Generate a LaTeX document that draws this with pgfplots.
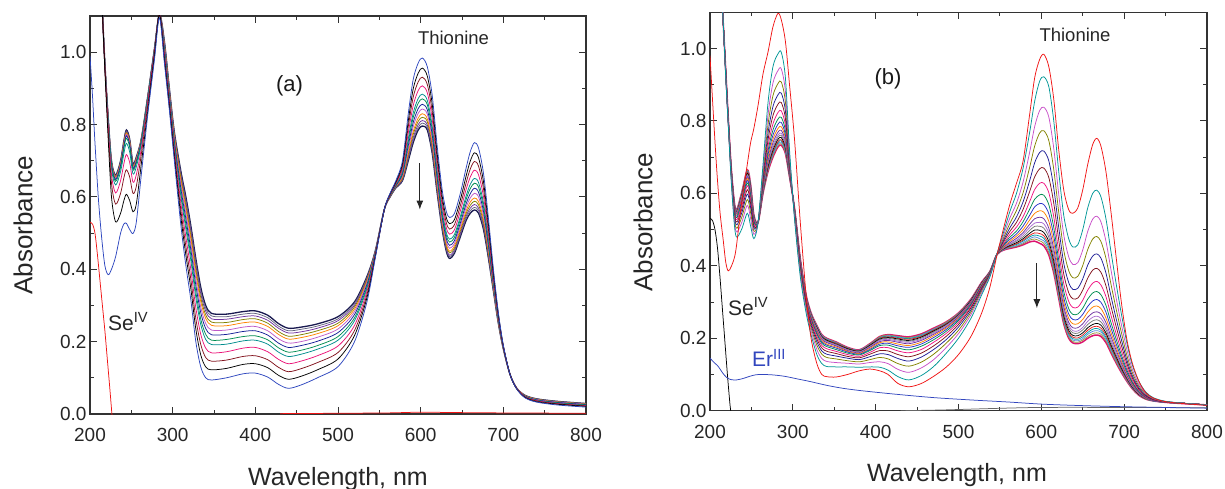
\documentclass[border=0pt]{standalone}
\usepackage{fontspec}
\setmainfont{Liberation Sans}
\usepackage{pgfplots}
\usepackage{pgfplotstable}
\pgfplotsset{compat=1.18}
\usetikzlibrary{arrows.meta}

\definecolor{cA0}{RGB}{45,70,190}
\definecolor{cA1}{RGB}{0,0,0}
\definecolor{cA2}{RGB}{130,20,30}
\definecolor{cA3}{RGB}{235,20,120}
\definecolor{cA4}{RGB}{0,140,140}
\definecolor{cA5}{RGB}{0,140,80}
\definecolor{cA6}{RGB}{20,30,150}
\definecolor{cA7}{RGB}{190,90,200}
\definecolor{cA8}{RGB}{255,130,0}
\definecolor{cA9}{RGB}{130,130,0}
\definecolor{cA10}{RGB}{110,50,160}
\definecolor{cA11}{RGB}{100,100,130}
\definecolor{cA12}{RGB}{25,25,80}
\definecolor{cB0}{RGB}{240,20,20}
\definecolor{cB1}{RGB}{0,150,150}
\definecolor{cB2}{RGB}{200,80,200}
\definecolor{cB3}{RGB}{130,130,0}
\definecolor{cB4}{RGB}{30,30,150}
\definecolor{cB5}{RGB}{130,20,30}
\definecolor{cB6}{RGB}{240,20,130}
\definecolor{cB7}{RGB}{0,140,80}
\definecolor{cB8}{RGB}{40,50,200}
\definecolor{cB9}{RGB}{255,130,0}
\definecolor{cB10}{RGB}{110,50,160}
\definecolor{cB11}{RGB}{170,110,210}
\definecolor{cB12}{RGB}{120,120,120}
\definecolor{cB13}{RGB}{0,0,0}
\definecolor{cB14}{RGB}{230,30,30}
\definecolor{cB15}{RGB}{0,160,170}
\definecolor{cB16}{RGB}{90,140,220}
\definecolor{cB17}{RGB}{150,150,60}
\definecolor{cB18}{RGB}{220,20,110}
\definecolor{seRed}{RGB}{240,20,20}
\definecolor{erBlue}{RGB}{50,70,190}

\pgfplotstableread{
x k0 k1 k2 k3 k4 k5 k6 k7 k8 k9 k10 k11 k12
200 0.99 nan nan nan nan nan nan nan nan nan nan nan nan
203 0.88 nan nan nan nan nan nan nan nan nan nan nan nan
206 0.75 nan nan nan nan nan nan nan nan nan nan nan nan
210 0.60 1.35 1.35 1.35 1.35 1.35 1.35 1.35 1.35 1.35 1.35 1.35 1.35
214 0.49 1.16 1.16 1.16 1.16 1.16 1.16 1.16 1.16 1.16 1.16 1.16 1.16
218 0.41 0.95 0.958 0.962 0.966 0.967 0.968 0.969 0.969 0.969 0.969 0.97 0.97
222 0.385 0.76 0.783 0.797 0.807 0.812 0.815 0.816 0.817 0.818 0.818 0.819 0.82
226 0.40 0.60 0.638 0.662 0.679 0.687 0.691 0.693 0.695 0.696 0.697 0.699 0.70
231 0.435 0.531 0.580 0.611 0.633 0.643 0.648 0.651 0.654 0.655 0.656 0.658 0.660
237 0.50 0.555 0.610 0.645 0.670 0.681 0.687 0.690 0.693 0.694 0.696 0.698 0.70
241 0.525 0.59 0.653 0.692 0.720 0.734 0.740 0.743 0.747 0.748 0.750 0.753 0.755
244 0.527 0.607 0.675 0.717 0.748 0.762 0.769 0.773 0.776 0.778 0.780 0.782 0.785
248 0.51 0.59 0.655 0.695 0.724 0.738 0.745 0.748 0.752 0.753 0.755 0.757 0.76
252 0.499 0.559 0.610 0.641 0.664 0.675 0.680 0.683 0.685 0.687 0.688 0.690 0.692
256 0.53 0.58 0.629 0.661 0.683 0.693 0.698 0.701 0.704 0.705 0.706 0.708 0.71
262 0.66 0.69 0.717 0.733 0.745 0.751 0.754 0.755 0.757 0.757 0.758 0.759 0.76
270 0.83 0.84 0.855 0.865 0.872 0.875 0.876 0.877 0.878 0.878 0.879 0.879 0.88
278 0.98 0.99 0.998 1.002 1.006 1.007 1.008 1.009 1.009 1.009 1.009 1.01 1.01
284 1.095 1.105 1.105 1.105 1.105 1.105 1.105 1.105 1.105 1.105 1.105 1.105 1.105
290 0.97 0.979 0.987 0.995 1.002 1.006 1.011 1.015 1.019 1.022 1.025 1.028 1.03
296 0.84 0.849 0.857 0.865 0.872 0.876 0.881 0.885 0.889 0.892 0.895 0.898 0.90
302 0.70 0.712 0.722 0.733 0.742 0.748 0.754 0.76 0.766 0.77 0.774 0.777 0.78
310 0.52 0.543 0.562 0.582 0.60 0.61 0.622 0.633 0.643 0.651 0.658 0.664 0.67
316 0.41 0.439 0.463 0.488 0.511 0.524 0.539 0.553 0.566 0.575 0.585 0.592 0.60
322 0.315 0.346 0.372 0.399 0.424 0.438 0.454 0.469 0.483 0.493 0.504 0.512 0.52
328 0.20 0.235 0.264 0.294 0.322 0.338 0.356 0.373 0.389 0.40 0.412 0.421 0.43
334 0.13 0.163 0.192 0.22 0.247 0.262 0.28 0.295 0.31 0.321 0.332 0.341 0.35
340 0.10 0.13 0.156 0.182 0.206 0.22 0.236 0.25 0.264 0.274 0.284 0.292 0.30
347 0.094 0.122 0.146 0.169 0.192 0.204 0.219 0.232 0.245 0.254 0.263 0.271 0.278
365 0.10 0.126 0.149 0.172 0.193 0.206 0.22 0.232 0.244 0.253 0.262 0.269 0.276
385 0.111 0.137 0.159 0.182 0.202 0.214 0.228 0.24 0.252 0.261 0.269 0.276 0.283
400 0.113 0.139 0.161 0.184 0.204 0.216 0.23 0.242 0.254 0.263 0.271 0.278 0.285
415 0.102 0.128 0.15 0.172 0.193 0.205 0.218 0.23 0.242 0.251 0.259 0.266 0.273
428 0.082 0.107 0.129 0.151 0.171 0.183 0.196 0.208 0.22 0.228 0.237 0.243 0.25
440 0.071 0.096 0.117 0.139 0.159 0.171 0.184 0.196 0.207 0.215 0.224 0.23 0.237
455 0.08 0.104 0.125 0.146 0.165 0.176 0.189 0.20 0.211 0.219 0.227 0.234 0.24
475 0.10 0.122 0.142 0.161 0.179 0.189 0.201 0.212 0.222 0.23 0.237 0.243 0.249
500 0.131 0.152 0.17 0.188 0.204 0.214 0.225 0.235 0.244 0.251 0.258 0.263 0.269
520 0.20 0.217 0.231 0.245 0.258 0.266 0.275 0.283 0.29 0.296 0.301 0.306 0.31
535 0.31 0.321 0.33 0.339 0.347 0.352 0.358 0.363 0.367 0.371 0.374 0.377 0.38
545 0.43 0.433 0.436 0.438 0.441 0.442 0.444 0.445 0.446 0.447 0.448 0.449 0.45
556 0.565 0.565 0.565 0.565 0.565 0.565 0.565 0.565 0.565 0.565 0.565 0.565 0.565
563 0.61 0.609 0.607 0.606 0.605 0.604 0.603 0.603 0.602 0.601 0.601 0.60 0.60
570 0.645 0.642 0.639 0.637 0.634 0.633 0.631 0.63 0.629 0.628 0.627 0.626 0.625
578 0.70 0.692 0.685 0.677 0.671 0.667 0.663 0.659 0.655 0.652 0.649 0.647 0.645
585 0.83 0.81 0.794 0.777 0.761 0.752 0.742 0.732 0.723 0.717 0.71 0.705 0.70
591 0.925 0.899 0.876 0.853 0.832 0.82 0.806 0.794 0.781 0.773 0.764 0.757 0.75
597 0.97 0.942 0.918 0.894 0.872 0.859 0.844 0.831 0.818 0.809 0.80 0.792 0.785
602 0.984 0.956 0.931 0.907 0.884 0.871 0.856 0.843 0.83 0.82 0.811 0.804 0.796
608 0.96 0.934 0.911 0.888 0.867 0.855 0.841 0.829 0.816 0.808 0.799 0.792 0.785
614 0.88 0.856 0.835 0.814 0.795 0.784 0.771 0.76 0.749 0.741 0.733 0.726 0.72
620 0.74 0.72 0.704 0.687 0.671 0.662 0.652 0.642 0.633 0.627 0.62 0.615 0.61
626 0.62 0.603 0.589 0.575 0.562 0.554 0.545 0.537 0.53 0.524 0.519 0.514 0.51
631 0.56 0.543 0.529 0.515 0.502 0.494 0.485 0.477 0.47 0.464 0.459 0.454 0.45
635 0.543 0.526 0.511 0.497 0.483 0.475 0.466 0.458 0.45 0.445 0.439 0.435 0.43
641 0.555 0.538 0.524 0.51 0.497 0.489 0.48 0.472 0.465 0.459 0.454 0.449 0.445
648 0.61 0.592 0.576 0.561 0.546 0.538 0.528 0.52 0.512 0.506 0.50 0.495 0.49
655 0.68 0.658 0.639 0.621 0.603 0.593 0.581 0.571 0.561 0.554 0.547 0.541 0.535
660 0.725 0.699 0.677 0.655 0.635 0.623 0.609 0.597 0.586 0.577 0.569 0.562 0.555
665 0.75 0.722 0.698 0.674 0.651 0.638 0.624 0.61 0.597 0.588 0.579 0.571 0.564
670 0.735 0.708 0.685 0.661 0.64 0.627 0.613 0.60 0.587 0.578 0.569 0.562 0.555
676 0.665 0.642 0.622 0.601 0.583 0.572 0.56 0.549 0.538 0.53 0.522 0.516 0.51
682 0.54 0.524 0.509 0.495 0.482 0.474 0.465 0.458 0.45 0.444 0.439 0.434 0.43
688 0.40 0.391 0.383 0.375 0.368 0.364 0.359 0.355 0.351 0.348 0.345 0.342 0.34
694 0.28 0.276 0.272 0.268 0.264 0.262 0.26 0.258 0.255 0.254 0.252 0.251 0.25
700 0.19 0.189 0.187 0.186 0.185 0.184 0.183 0.183 0.182 0.181 0.181 0.18 0.18
708 0.11 0.11 0.11 0.11 0.11 0.11 0.11 0.11 0.11 0.11 0.11 0.11 0.11
716 0.07 0.07 0.071 0.071 0.071 0.071 0.071 0.072 0.072 0.072 0.072 0.072 0.072
726 0.045 0.046 0.047 0.048 0.049 0.049 0.05 0.05 0.051 0.051 0.051 0.052 0.052
740 0.033 0.034 0.036 0.037 0.038 0.038 0.039 0.040 0.040 0.041 0.041 0.042 0.042
765 0.025 0.027 0.028 0.029 0.030 0.031 0.032 0.033 0.033 0.034 0.034 0.035 0.035
800 0.019 0.021 0.022 0.023 0.024 0.025 0.026 0.027 0.027 0.028 0.028 0.029 0.029
}\tabA

\pgfplotstableread{
x k0 k1 k2 k3 k4 k5 k6 k7 k8 k9 k10 k11 k12 k13 k14 k15 k16 k17 k18
200 0.98 nan nan nan nan nan nan nan nan nan nan nan nan nan nan nan nan nan nan
204 0.82 nan nan nan nan nan nan nan nan nan nan nan nan nan nan nan nan nan nan
208 0.67 nan nan nan nan nan nan nan nan nan nan nan nan nan nan nan nan nan nan
212 0.55 1.25 1.25 1.25 1.25 1.25 1.25 1.25 1.25 1.25 1.25 1.25 1.25 1.25 1.25 1.25 1.25 1.25 1.25
216 0.47 1.07 1.07 1.07 1.07 1.07 1.07 1.07 1.07 1.07 1.07 1.07 1.07 1.07 1.07 1.07 1.07 1.07 1.07
219 0.41 0.92 0.924 0.926 0.929 0.931 0.933 0.934 0.935 0.936 0.937 0.937 0.938 0.938 0.939 0.939 0.939 0.94 0.94
222 0.386 0.79 0.794 0.796 0.799 0.801 0.803 0.804 0.805 0.806 0.807 0.807 0.808 0.808 0.809 0.809 0.809 0.81 0.81
226 0.40 0.62 0.627 0.633 0.638 0.642 0.645 0.648 0.65 0.652 0.654 0.655 0.656 0.657 0.658 0.658 0.659 0.659 0.66
231 0.44 0.485 0.498 0.507 0.516 0.523 0.529 0.534 0.538 0.541 0.544 0.546 0.548 0.549 0.551 0.552 0.553 0.554 0.555
238 0.572 0.50 0.518 0.532 0.544 0.554 0.563 0.57 0.576 0.58 0.584 0.587 0.59 0.592 0.594 0.596 0.597 0.599 0.60
245 0.68 0.545 0.567 0.583 0.598 0.61 0.621 0.629 0.636 0.641 0.646 0.649 0.652 0.655 0.658 0.66 0.661 0.663 0.665
249 0.74 0.51 0.531 0.547 0.561 0.572 0.582 0.591 0.597 0.602 0.607 0.61 0.613 0.616 0.618 0.62 0.622 0.623 0.625
253 0.78 0.475 0.487 0.496 0.504 0.51 0.516 0.521 0.524 0.527 0.53 0.532 0.533 0.535 0.536 0.537 0.538 0.539 0.54
258 0.843 0.52 0.52 0.52 0.52 0.52 0.52 0.52 0.52 0.52 0.52 0.52 0.52 0.52 0.52 0.52 0.52 0.52 0.52
264 0.93 0.68 0.666 0.654 0.645 0.637 0.63 0.624 0.62 0.616 0.613 0.61 0.608 0.606 0.605 0.604 0.602 0.601 0.60
270 0.99 0.85 0.816 0.789 0.766 0.747 0.73 0.717 0.707 0.698 0.69 0.685 0.68 0.675 0.671 0.669 0.666 0.663 0.66
276 1.06 0.95 0.905 0.87 0.84 0.815 0.792 0.775 0.761 0.75 0.74 0.732 0.726 0.72 0.715 0.711 0.707 0.704 0.70
282 1.097 0.985 0.939 0.903 0.872 0.846 0.823 0.805 0.791 0.779 0.769 0.761 0.755 0.749 0.743 0.74 0.736 0.732 0.728
286 1.08 0.99 0.944 0.908 0.877 0.851 0.828 0.81 0.796 0.784 0.774 0.766 0.76 0.754 0.748 0.745 0.741 0.737 0.733
291 1.02 0.92 0.882 0.853 0.828 0.807 0.788 0.773 0.761 0.752 0.744 0.737 0.732 0.727 0.723 0.719 0.716 0.713 0.71
296 0.90 0.72 0.706 0.696 0.687 0.679 0.673 0.667 0.663 0.66 0.657 0.655 0.653 0.651 0.649 0.648 0.647 0.646 0.645
302 0.75 0.53 0.535 0.54 0.543 0.546 0.549 0.551 0.553 0.554 0.555 0.556 0.557 0.558 0.558 0.559 0.559 0.56 0.56
309 0.52 0.37 0.379 0.386 0.392 0.397 0.402 0.405 0.408 0.41 0.412 0.414 0.415 0.416 0.417 0.418 0.419 0.419 0.42
316 0.32 0.27 0.279 0.286 0.292 0.297 0.302 0.305 0.308 0.31 0.312 0.314 0.315 0.316 0.317 0.318 0.319 0.319 0.32
322 0.20 0.21 0.221 0.229 0.236 0.242 0.248 0.252 0.255 0.258 0.26 0.262 0.264 0.265 0.266 0.267 0.268 0.269 0.27
329 0.13 0.155 0.169 0.181 0.19 0.198 0.205 0.211 0.215 0.219 0.222 0.225 0.227 0.229 0.23 0.231 0.233 0.234 0.235
335 0.10 0.13 0.144 0.156 0.165 0.173 0.18 0.186 0.19 0.194 0.197 0.20 0.202 0.204 0.205 0.206 0.208 0.209 0.21
341 0.094 0.122 0.136 0.147 0.156 0.164 0.171 0.177 0.181 0.184 0.188 0.19 0.192 0.194 0.195 0.196 0.198 0.199 0.20
352 0.093 0.121 0.133 0.143 0.151 0.158 0.164 0.169 0.173 0.176 0.179 0.181 0.183 0.184 0.186 0.187 0.188 0.189 0.19
366 0.10 0.121 0.131 0.138 0.145 0.15 0.155 0.159 0.162 0.164 0.166 0.168 0.169 0.171 0.172 0.173 0.173 0.174 0.175
380 0.11 0.12 0.129 0.135 0.141 0.146 0.15 0.154 0.156 0.158 0.16 0.162 0.163 0.164 0.165 0.166 0.167 0.167 0.168
393 0.115 0.121 0.133 0.141 0.149 0.156 0.161 0.166 0.169 0.172 0.175 0.177 0.178 0.18 0.181 0.182 0.183 0.184 0.185
405 0.11 0.12 0.135 0.147 0.157 0.166 0.174 0.18 0.184 0.188 0.191 0.194 0.196 0.198 0.20 0.201 0.202 0.204 0.205
415 0.10 0.112 0.13 0.143 0.155 0.165 0.174 0.181 0.186 0.19 0.194 0.197 0.20 0.202 0.204 0.206 0.207 0.209 0.21
427 0.075 0.094 0.114 0.13 0.144 0.155 0.165 0.173 0.179 0.184 0.189 0.192 0.195 0.198 0.20 0.202 0.204 0.205 0.207
440 0.066 0.085 0.106 0.123 0.137 0.149 0.16 0.168 0.175 0.18 0.185 0.189 0.192 0.194 0.197 0.199 0.20 0.202 0.204
455 0.075 0.097 0.118 0.134 0.148 0.159 0.169 0.178 0.184 0.189 0.194 0.197 0.20 0.203 0.205 0.207 0.209 0.21 0.212
470 0.095 0.122 0.141 0.156 0.169 0.179 0.189 0.196 0.202 0.207 0.211 0.214 0.217 0.22 0.222 0.223 0.225 0.226 0.228
485 0.12 0.158 0.174 0.186 0.196 0.205 0.213 0.219 0.224 0.228 0.231 0.234 0.236 0.238 0.24 0.241 0.242 0.244 0.245
500 0.155 0.20 0.213 0.222 0.231 0.238 0.244 0.249 0.253 0.256 0.259 0.261 0.263 0.264 0.266 0.267 0.268 0.269 0.27
515 0.205 0.255 0.265 0.272 0.278 0.284 0.288 0.292 0.295 0.297 0.30 0.301 0.302 0.304 0.305 0.306 0.306 0.307 0.308
528 0.27 0.32 0.326 0.331 0.335 0.339 0.342 0.345 0.346 0.348 0.349 0.35 0.351 0.352 0.353 0.353 0.354 0.354 0.355
538 0.342 0.37 0.373 0.375 0.377 0.378 0.379 0.381 0.381 0.382 0.383 0.383 0.383 0.384 0.384 0.384 0.385 0.385 0.385
546 0.425 0.43 0.43 0.43 0.43 0.43 0.43 0.43 0.43 0.43 0.43 0.43 0.43 0.43 0.43 0.43 0.43 0.43 0.43
554 0.50 0.49 0.482 0.475 0.469 0.465 0.46 0.457 0.455 0.452 0.451 0.449 0.448 0.447 0.446 0.445 0.444 0.444 0.443
562 0.57 0.55 0.532 0.517 0.505 0.495 0.486 0.479 0.473 0.468 0.464 0.461 0.459 0.456 0.454 0.453 0.451 0.45 0.448
570 0.628 0.60 0.573 0.553 0.535 0.52 0.507 0.496 0.488 0.482 0.476 0.471 0.468 0.464 0.461 0.459 0.456 0.454 0.452
578 0.69 0.67 0.632 0.602 0.577 0.556 0.536 0.522 0.51 0.50 0.492 0.486 0.48 0.475 0.471 0.468 0.464 0.461 0.458
586 0.82 0.77 0.715 0.673 0.636 0.606 0.578 0.557 0.54 0.527 0.515 0.506 0.498 0.49 0.484 0.48 0.475 0.471 0.466
592 0.92 0.855 0.785 0.731 0.685 0.646 0.611 0.584 0.563 0.545 0.53 0.518 0.509 0.499 0.491 0.485 0.48 0.474 0.468
598 0.97 0.91 0.829 0.767 0.713 0.668 0.628 0.596 0.572 0.552 0.534 0.52 0.509 0.498 0.489 0.482 0.475 0.469 0.462
603 0.984 0.922 0.838 0.773 0.717 0.67 0.628 0.595 0.569 0.548 0.53 0.516 0.504 0.492 0.483 0.476 0.469 0.462 0.455
609 0.95 0.895 0.811 0.746 0.69 0.644 0.602 0.569 0.544 0.523 0.504 0.49 0.479 0.467 0.458 0.451 0.444 0.437 0.43
615 0.86 0.80 0.724 0.666 0.615 0.573 0.535 0.506 0.483 0.464 0.447 0.435 0.424 0.414 0.405 0.399 0.393 0.386 0.38
621 0.72 0.66 0.597 0.548 0.506 0.471 0.439 0.415 0.396 0.38 0.366 0.355 0.347 0.338 0.331 0.326 0.32 0.315 0.31
627 0.61 0.54 0.486 0.444 0.408 0.378 0.351 0.33 0.313 0.30 0.288 0.279 0.271 0.264 0.258 0.253 0.249 0.244 0.24
633 0.555 0.475 0.425 0.387 0.354 0.326 0.302 0.282 0.267 0.255 0.244 0.236 0.229 0.222 0.216 0.212 0.208 0.204 0.20
638 0.545 0.452 0.404 0.367 0.335 0.309 0.285 0.266 0.252 0.24 0.229 0.221 0.215 0.208 0.203 0.199 0.195 0.191 0.187
644 0.56 0.458 0.409 0.371 0.338 0.311 0.286 0.267 0.252 0.24 0.229 0.22 0.214 0.207 0.201 0.197 0.193 0.189 0.185
650 0.61 0.50 0.444 0.401 0.364 0.333 0.305 0.283 0.266 0.252 0.24 0.23 0.223 0.215 0.209 0.204 0.199 0.195 0.19
656 0.68 0.56 0.495 0.445 0.402 0.366 0.333 0.308 0.288 0.272 0.258 0.247 0.238 0.229 0.222 0.216 0.211 0.205 0.20
662 0.735 0.60 0.529 0.474 0.427 0.388 0.352 0.325 0.303 0.286 0.27 0.258 0.248 0.238 0.231 0.225 0.219 0.213 0.207
667 0.752 0.609 0.537 0.481 0.433 0.393 0.357 0.329 0.307 0.289 0.273 0.261 0.251 0.241 0.233 0.227 0.221 0.215 0.209
672 0.73 0.59 0.521 0.467 0.421 0.382 0.347 0.32 0.299 0.282 0.267 0.255 0.245 0.236 0.228 0.222 0.217 0.211 0.205
678 0.66 0.53 0.468 0.421 0.38 0.345 0.315 0.291 0.272 0.256 0.243 0.232 0.224 0.215 0.209 0.203 0.198 0.193 0.188
684 0.55 0.44 0.39 0.35 0.317 0.289 0.264 0.244 0.229 0.216 0.205 0.196 0.189 0.182 0.177 0.173 0.168 0.164 0.16
690 0.43 0.355 0.315 0.284 0.257 0.235 0.215 0.20 0.187 0.177 0.169 0.162 0.156 0.151 0.146 0.143 0.14 0.136 0.133
696 0.31 0.275 0.245 0.222 0.202 0.185 0.17 0.158 0.149 0.141 0.135 0.13 0.126 0.121 0.118 0.116 0.113 0.111 0.108
703 0.20 0.19 0.171 0.155 0.142 0.132 0.122 0.114 0.108 0.104 0.099 0.096 0.093 0.091 0.088 0.087 0.085 0.084 0.082
710 0.13 0.125 0.113 0.104 0.096 0.09 0.084 0.079 0.076 0.073 0.07 0.068 0.067 0.065 0.064 0.063 0.062 0.061 0.06
718 0.08 0.08 0.073 0.068 0.063 0.059 0.056 0.053 0.051 0.05 0.048 0.047 0.046 0.045 0.044 0.044 0.043 0.043 0.042
726 0.05 0.052 0.048 0.046 0.043 0.041 0.039 0.038 0.037 0.036 0.035 0.035 0.034 0.034 0.033 0.033 0.033 0.032 0.032
735 0.035 0.036 0.034 0.033 0.032 0.031 0.030 0.030 0.029 0.029 0.028 0.028 0.028 0.028 0.028 0.027 0.027 0.027 0.027
750 0.025 0.026 0.025 0.025 0.025 0.024 0.024 0.024 0.024 0.024 0.023 0.023 0.023 0.023 0.023 0.023 0.023 0.023 0.023
775 0.019 0.02 0.02 0.02 0.02 0.02 0.02 0.02 0.02 0.02 0.02 0.02 0.02 0.02 0.02 0.02 0.02 0.02 0.019
800 0.015 0.016 0.016 0.016 0.016 0.016 0.016 0.016 0.016 0.016 0.016 0.016 0.016 0.016 0.016 0.016 0.016 0.016 0.016
}\tabB

\pgfplotsset{
  specaxis/.style={
    scale only axis, anchor=south west,
    xmin=200, xmax=800, ymin=0, ymax=1.1,
    xtick={200,300,400,500,600,700,800},
    ytick={0,0.2,0.4,0.6,0.8,1.0},
    minor x tick num=1, minor y tick num=1,
    tick align=inside,
    major tick length=7pt, minor tick length=4pt,
    axis line style={line width=1.3pt, draw=black!80},
    tick style={line width=1pt, black!80},
    ticklabel style={font=\fontsize{19}{22}\selectfont, text=black!85},
    /pgf/number format/assume math mode=true,
    yticklabel style={/pgf/number format/fixed, /pgf/number format/fixed zerofill, /pgf/number format/precision=1},
    xticklabel style={yshift=-11pt},
    unbounded coords=jump,
    clip=true,
  },
  curve/.style={smooth, tension=0.5, line width=0.75pt},
}

\begin{document}
\begin{tikzpicture}[x=1pt,y=1pt]
\path[use as bounding box] (0pt,0pt) rectangle (1225pt,488pt);

% ---------------- panel (a)
\begin{axis}[specaxis, at={(90pt,74pt)}, width=496pt, height=398pt]
\addplot[curve, cA12, line width=1.3pt] table[x=x,y=k12]{\tabA};
\addplot[curve, cA11] table[x=x,y=k11]{\tabA};
\addplot[curve, cA10] table[x=x,y=k10]{\tabA};
\addplot[curve, cA9] table[x=x,y=k9]{\tabA};
\addplot[curve, cA8] table[x=x,y=k8]{\tabA};
\addplot[curve, cA7] table[x=x,y=k7]{\tabA};
\addplot[curve, cA6] table[x=x,y=k6]{\tabA};
\addplot[curve, cA5] table[x=x,y=k5]{\tabA};
\addplot[curve, cA4] table[x=x,y=k4]{\tabA};
\addplot[curve, cA3] table[x=x,y=k3]{\tabA};
\addplot[curve, cA2] table[x=x,y=k2]{\tabA};
\addplot[curve, cA1] table[x=x,y=k1]{\tabA};
\addplot[curve, cA0] table[x=x,y=k0]{\tabA};
\addplot[curve, seRed] coordinates {(200,0.53) (203,0.525) (206,0.50) (209,0.44) (212,0.37) (215,0.30) (218,0.23) (221,0.15) (224,0.07) (226.5,0) (228,-0.04)};
\addplot[curve, seRed] coordinates {(430,0.001) (500,0.002) (560,0.003) (600,0.005) (640,0.004) (700,0.003) (800,0.002)};
\draw[-{Latex[length=9pt,width=7pt]}, line width=1pt, black!85] (axis cs:599,0.693) -- (axis cs:599,0.565);
\end{axis}

% ---------------- panel (b)
\begin{axis}[specaxis, at={(710pt,77.3pt)}, width=497pt, height=398.4pt]
\addplot[curve, cB18, line width=1.5pt] table[x=x,y=k18]{\tabB};
\addplot[curve, cB17] table[x=x,y=k17]{\tabB};
\addplot[curve, cB16] table[x=x,y=k16]{\tabB};
\addplot[curve, cB15] table[x=x,y=k15]{\tabB};
\addplot[curve, cB14] table[x=x,y=k14]{\tabB};
\addplot[curve, cB13] table[x=x,y=k13]{\tabB};
\addplot[curve, cB12] table[x=x,y=k12]{\tabB};
\addplot[curve, cB11] table[x=x,y=k11]{\tabB};
\addplot[curve, cB10] table[x=x,y=k10]{\tabB};
\addplot[curve, cB9] table[x=x,y=k9]{\tabB};
\addplot[curve, cB8] table[x=x,y=k8]{\tabB};
\addplot[curve, cB7] table[x=x,y=k7]{\tabB};
\addplot[curve, cB6] table[x=x,y=k6]{\tabB};
\addplot[curve, cB5] table[x=x,y=k5]{\tabB};
\addplot[curve, cB4] table[x=x,y=k4]{\tabB};
\addplot[curve, cB3] table[x=x,y=k3]{\tabB};
\addplot[curve, cB2] table[x=x,y=k2]{\tabB};
\addplot[curve, cB1] table[x=x,y=k1]{\tabB};
\addplot[curve, cB0] table[x=x,y=k0]{\tabB};
\addplot[curve, black] coordinates {(200,0.531) (203,0.525) (206,0.50) (209,0.45) (212,0.37) (215,0.28) (218,0.19) (221,0.10) (224,0.02) (225,0) (226,-0.03)};
\addplot[curve, black!60] coordinates {(430,0.0) (480,0.002) (540,0.006) (600,0.009) (700,0.009) (800,0.008)};
\addplot[curve, erBlue] coordinates {(200,0.145) (205,0.133) (210,0.122) (215,0.105) (220,0.092) (225,0.086) (232,0.085) (240,0.089) (248,0.095) (255,0.099) (262,0.100) (275,0.099) (290,0.095) (305,0.088) (320,0.081) (341,0.070) (360,0.062) (380,0.056) (413,0.048) (450,0.040) (477,0.035) (520,0.029) (560,0.024) (602,0.018) (650,0.014) (700,0.011) (750,0.009) (800,0.007)};
\draw[-{Latex[length=9pt,width=7pt]}, line width=1pt, black!85] (axis cs:594.6,0.407) -- (axis cs:594.6,0.283);
\end{axis}

% ---------------- labels
\node[rotate=90, font=\fontsize{26}{30}\selectfont, text=black!85] at (23pt,263pt) {Absorbance};
\node[anchor=base, font=\fontsize{25}{30}\selectfont, text=black!85] at (338pt,3pt) {Wavelength, nm};
\node[rotate=90, font=\fontsize{26}{30}\selectfont, text=black!85] at (643pt,266pt) {Absorbance};
\node[anchor=base, font=\fontsize{25}{30}\selectfont, text=black!85] at (957pt,6.3pt) {Wavelength, nm};

\node[anchor=base, font=\fontsize{18.5}{22}\selectfont, text=black!85] at (453.5pt,443.7pt) {Thionine};
\node[anchor=base, font=\fontsize{18.5}{22}\selectfont, text=black!85] at (1075pt,446.3pt) {Thionine};
\node[font=\fontsize{22}{26}\selectfont, text=black!90] at (289.5pt,402pt) {(a)};
\node[font=\fontsize{22}{26}\selectfont, text=black!90] at (888pt,409pt) {(b)};

\node[anchor=base west, inner sep=0pt, font=\fontsize{21}{24}\selectfont, text=black!85] at (108pt,158pt) {Se\textsuperscript{IV}};
\node[anchor=base west, inner sep=0pt, font=\fontsize{21}{24}\selectfont, text=black!85] at (728pt,173pt) {Se\textsuperscript{IV}};
\node[anchor=base west, inner sep=0pt, font=\fontsize{21}{24}\selectfont, text=erBlue] at (752pt,121.3pt) {Er\textsuperscript{III}};
\end{tikzpicture}
\end{document}
